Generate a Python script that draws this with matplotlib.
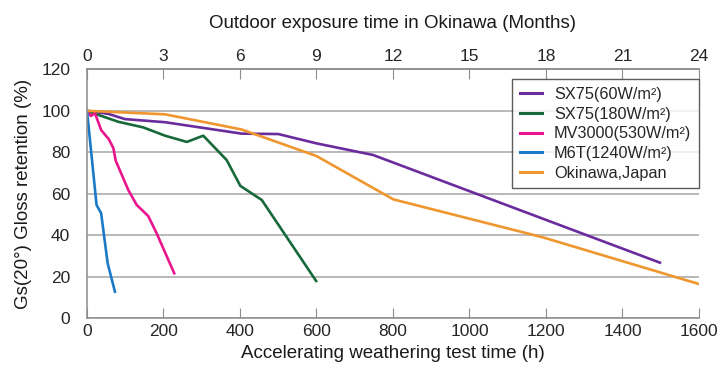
import matplotlib
matplotlib.use('Agg')
import matplotlib.pyplot as plt

plt.rcParams['font.family'] = ['Liberation Sans', 'DejaVu Sans']

# hours / gloss retention (%)
sx60_h = [0, 56, 99, 204, 404, 500, 600, 748, 1498]
sx60_g = [100, 98.5, 96, 94.5, 89, 88.8, 84.3, 78.7, 26.8]

sx180_h = [0, 30, 82, 147, 204, 261, 304, 365, 401, 457, 599]
sx180_g = [100, 98, 94.7, 92, 88, 85, 88, 76.3, 63.8, 57, 18]

mv_h = [0, 10, 21, 37, 57, 69, 75, 108, 130, 160, 182, 228]
mv_g = [100, 97.5, 98.8, 90.7, 86.3, 82, 76, 61.8, 54.6, 49.3, 41, 21.7]

m6t_h = [0, 25, 37, 54, 73]
m6t_g = [100, 54.6, 50.6, 26.5, 12.8]

oki_h = [0, 204, 404, 600, 801, 1192, 1600]
oki_g = [100, 98.3, 91, 78.2, 57.3, 39, 16.5]

labels = ['SX75(60W/m²)', 'SX75(180W/m²)', 'MV3000(530W/m²)',
          'M6T(1240W/m²)', 'Okinawa,Japan']
colors = ['#6a2c9c', '#17693a', '#e8158c', '#1a7ac8', '#f0962e']

x_ticks = list(range(0, 1601, 200))
y_ticks = list(range(0, 121, 20))
month_ticks = list(range(0, 25, 3))

fig = plt.figure(figsize=(7.25, 3.74), dpi=100)
ax = fig.add_axes([0.12, 0.149, 0.8441, 0.6657])

series = [(sx60_h, sx60_g), (sx180_h, sx180_g), (mv_h, mv_g),
          (m6t_h, m6t_g), (oki_h, oki_g)]
for (h, g), lab, c in zip(series, labels, colors):
    ax.plot(h, g, color=c, lw=1.9, label=lab, solid_joinstyle='round')

ax.set_xlim(0, 1600)
ax.set_ylim(0, 120)
ax.set_xticks(x_ticks)
ax.set_yticks(y_ticks)
ax.yaxis.grid(True, color='#a6a6a6', lw=1.1)
ax.set_axisbelow(True)

grey = '#8c8c8c'
for s in ['left', 'bottom', 'top']:
    ax.spines[s].set_color(grey)
    ax.spines[s].set_linewidth(1.1)
ax.spines['right'].set_visible(False)

ax.tick_params(axis='x', direction='in', length=7, color=grey,
               labelsize=12.5, labelcolor='#262626', pad=4)
ax.tick_params(axis='y', length=0, labelsize=12.5, labelcolor='#262626',
               pad=12)

top = ax.secondary_xaxis('top', functions=(lambda h: h / 1600 * 24,
                                           lambda m: m * 1600 / 24))
top.set_xticks(month_ticks)
top.spines['top'].set_color(grey)
top.spines['top'].set_linewidth(1.1)
top.tick_params(direction='in', length=7, color=grey, labelsize=12.5,
                labelcolor='#262626', pad=4)
top.set_xlabel('Outdoor exposure time in Okinawa (Months)', fontsize=13.5,
               color='#1a1a1a', labelpad=15)

ax.set_xlabel('Accelerating weathering test time (h)', fontsize=13.5,
              color='#1a1a1a', labelpad=4.5)
ax.set_ylabel('Gs(20°) Gloss retention (%)', fontsize=13.5,
              color='#1a1a1a', labelpad=7)

leg = ax.legend(loc='upper right', bbox_to_anchor=(1.0, 0.961),
                borderaxespad=0, fontsize=11.7, frameon=True, fancybox=False,
                handlelength=1.35, handletextpad=0.74, labelspacing=0.29,
                borderpad=0.48, labelcolor='#262626')
leg.get_frame().set_edgecolor('#333333')
leg.get_frame().set_linewidth(1.0)
for line in leg.get_lines():
    line.set_linewidth(2.2)

fig.savefig('out.png', dpi=100)
